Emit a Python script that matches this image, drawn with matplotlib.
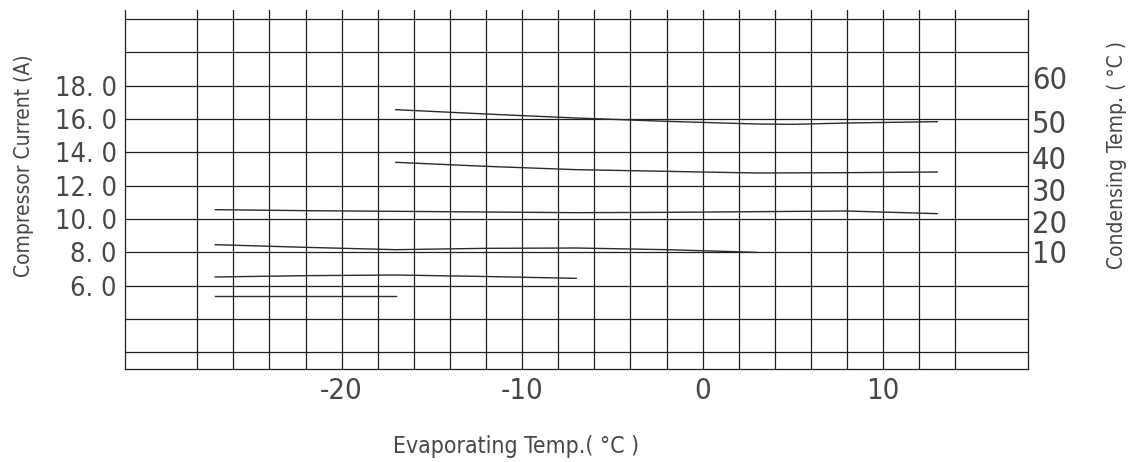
import matplotlib
matplotlib.use("Agg")
import matplotlib.pyplot as plt
from matplotlib import font_manager

# ---------------- data ----------------
evap_a = [-17, -12, -7, -2, 3, 5, 8, 13]
cur_a = [16.56, 16.30, 16.06, 15.86, 15.70, 15.68, 15.76, 15.84]

evap_b = [-17, -12, -7, -2, 3, 8, 13]
cur_b = [13.40, 13.16, 12.96, 12.86, 12.76, 12.78, 12.82]

evap_c = [-27, -22, -17, -12, -7, -2, 3, 8, 13]
cur_c = [10.56, 10.50, 10.46, 10.42, 10.38, 10.40, 10.44, 10.48, 10.32]

evap_d = [-27, -22, -17, -12, -7, -2, 3]
cur_d = [8.46, 8.30, 8.16, 8.24, 8.26, 8.16, 8.00]

evap_e = [-27, -22, -17, -12, -7]
cur_e = [6.52, 6.60, 6.64, 6.55, 6.44]

evap_f = [-27, -17]
cur_f = [5.36, 5.36]

x_ticks = [-20, -10, 0, 10]
x_tick_labels = ["-20", "-10", "0", "10"]
y_ticks = [6, 8, 10, 12, 14, 16, 18]
y_tick_labels = ["6. 0", "8. 0", "10. 0", "12. 0", "14. 0", "16. 0", "18. 0"]
cond_labels = ["60", "50", "40", "30", "20", "10"]
cond_label_pos = [18.48, 15.84, 13.68, 11.76, 9.84, 8.04]

grid_x = list(range(-28, 15, 2))
grid_y = list(range(2, 23, 2))

# ---------------- fonts ----------------
fl = font_manager.fontManager.ttflist
has_cond = any(f.name == "DejaVu Sans" and str(f.stretch) in ("condensed", "semi-condensed", "75", "87")
               for f in fl)
if has_cond:
    plt.rcParams["font.family"] = ["DejaVu Sans"]
    plt.rcParams["font.stretch"] = "condensed"
    scale = 1.0
else:
    plt.rcParams["font.family"] = ["Liberation Sans", "DejaVu Sans"]
    scale = 0.88

txt_col = "#474747"
line_col = "#1e1e1e"

fig = plt.figure(figsize=(11.37, 4.62), dpi=100)
ax = fig.add_axes([125 / 1137, 93 / 462, 902.5 / 1137, 359.5 / 462])
ax.set_xlim(-32, 18)
ax.set_ylim(1.0, 22.57)

for gx in grid_x:
    ax.axvline(gx, color=line_col, lw=0.9, zorder=1)
for gy in grid_y:
    ax.axhline(gy, color=line_col, lw=0.9, zorder=1)

curve_col = "#2b2b2b"
for xs, ys in [(evap_a, cur_a), (evap_b, cur_b), (evap_c, cur_c),
               (evap_d, cur_d), (evap_e, cur_e), (evap_f, cur_f)]:
    ax.plot(xs, ys, color=curve_col, lw=1.0, zorder=2)

for s in ["left", "right", "bottom"]:
    ax.spines[s].set_color(line_col)
    ax.spines[s].set_linewidth(0.9)
ax.spines["top"].set_visible(False)

ax.set_xticks(x_ticks)
ax.set_xticklabels(x_tick_labels)
ax.set_yticks(y_ticks)
ax.set_yticklabels(y_tick_labels)
ax.tick_params(axis="both", length=0, colors=txt_col)
ax.tick_params(axis="x", labelsize=21 * scale, pad=6)
ax.tick_params(axis="y", labelsize=19.5 * scale, pad=6)

ax2 = ax.twinx()
ax2.set_ylim(ax.get_ylim())
ax2.set_yticks(cond_label_pos)
ax2.set_yticklabels(cond_labels)
ax2.tick_params(axis="y", length=0, labelsize=22 * scale, pad=3, colors=txt_col)
for s in ax2.spines.values():
    s.set_visible(False)

fig.text(24 / 1137, 1 - 166 / 462, "Compressor Current (A)", rotation=90,
         ha="center", va="center", fontsize=15 * scale, color=txt_col)
fig.text(1117 / 1137, 1 - 155 / 462, "Condensing Temp. ( °C )", rotation=90,
         ha="center", va="center", fontsize=15 * scale, color=txt_col)
fig.text(516 / 1137, 1 - 446 / 462, "Evaporating Temp.( °C )",
         ha="center", va="center", fontsize=16.5 * scale, color=txt_col)

fig.savefig("out.png", dpi=100, facecolor="white")
